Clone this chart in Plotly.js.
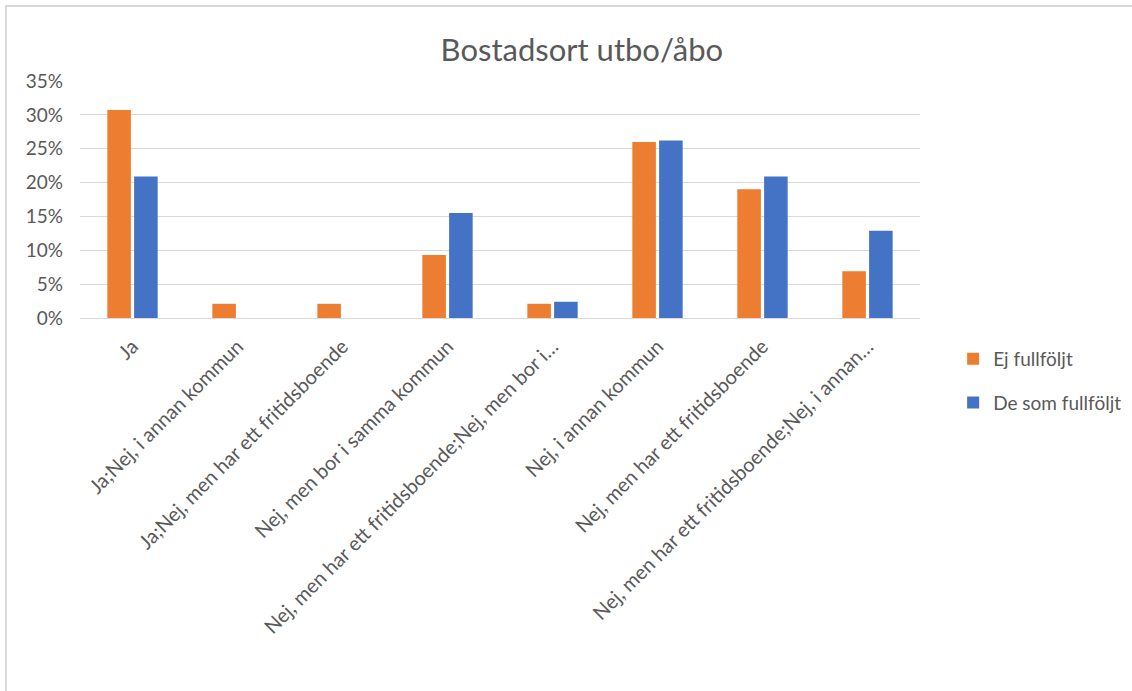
<!DOCTYPE html>
<html>
<head>
<meta charset="utf-8">
<script src="https://cdn.plot.ly/plotly-3.0.1.min.js"></script>
<style>
  body { margin: 0; background: #fff; }
  #chart { width: 1132px; height: 691px; }
  #frame { position: absolute; left: 5px; top: 5px; width: 1200px; height: 800px;
           border-left: 2px solid #d9d9d9; border-top: 2px solid #d9d9d9; pointer-events: none; }
</style>
</head>
<body>
<div id="chart"></div>
<div id="frame"></div>
<script>
// categories as shown on the x axis (Excel truncated the two longest)
const categories = [
    'Ja',
    'Ja;Nej, i annan kommun',
    'Ja;Nej, men har ett fritidsboende',
    'Nej, men bor i samma kommun',
    'Nej, men har ett fritidsboende;Nej, men bor i…',
    'Nej, i annan kommun',
    'Nej, men har ett fritidsboende',
    'Nej, men har ett fritidsboende;Nej, i annan…'
];

// share of respondents
const ejFullfoljt = [0.307, 0.021, 0.021, 0.093, 0.021, 0.260, 0.190, 0.069];
const deSomFullfoljt = [0.209, 0, 0, 0.155, 0.024, 0.262, 0.209, 0.129];

const seriesNames = ['Ej fullföljt', 'De som fullföljt'];
const colors = ['#ED7D31', '#4472C4'];

const textColor = '#595959';
const font = 'Lato, Open Sans, sans-serif';

const traces = [ejFullfoljt, deSomFullfoljt].map((values, i) => ({
    x: categories,
    y: values,
    type: 'bar',
    name: seriesNames[i],
    legendgroup: 'g' + i,
    marker: { color: colors[i], line: { width: 0 } },
    hoverinfo: 'x+y'
}));

Plotly.newPlot('chart', traces, {
    width: 1132,
    height: 691,
    margin: { l: 80, r: 212, t: 81, b: 373 },
    paper_bgcolor: '#fff',
    plot_bgcolor: '#fff',
    title: {
        text: 'Bostadsort utbo/åbo',
        font: { family: font, size: 31, color: textColor },
        x: 0.514,
        xanchor: 'center',
        y: 0.927,
        yanchor: 'middle'
    },
    bargap: 0.49,
    bargroupgap: 0.12,
    xaxis: {
        type: 'category',
        tickangle: -45,
        tickfont: { family: font, size: 20, color: textColor },
        showgrid: false,
        showline: false,
        ticks: '',
        ticklabelstandoff: 12
    },
    yaxis: {
        range: [0, 0.35],
        dtick: 0.05,
        tickformat: '.0%',
        tickfont: { family: font, size: 19, color: textColor },
        gridcolor: '#d9d9d9',
        gridwidth: 1,
        zeroline: true,
        zerolinecolor: '#d9d9d9',
        zerolinewidth: 1,
        showline: false,
        ticklabelstandoff: 16
    },
    showlegend: true,
    legend: {
        xref: 'container',
        yref: 'container',
        x: 0.842,
        xanchor: 'left',
        y: 0.508,
        yanchor: 'top',
        font: { family: font, size: 19, color: textColor },
        tracegroupgap: 16,
        traceorder: 'grouped'
    }
}, { displayModeBar: false, staticPlot: true });
</script>
</body>
</html>
